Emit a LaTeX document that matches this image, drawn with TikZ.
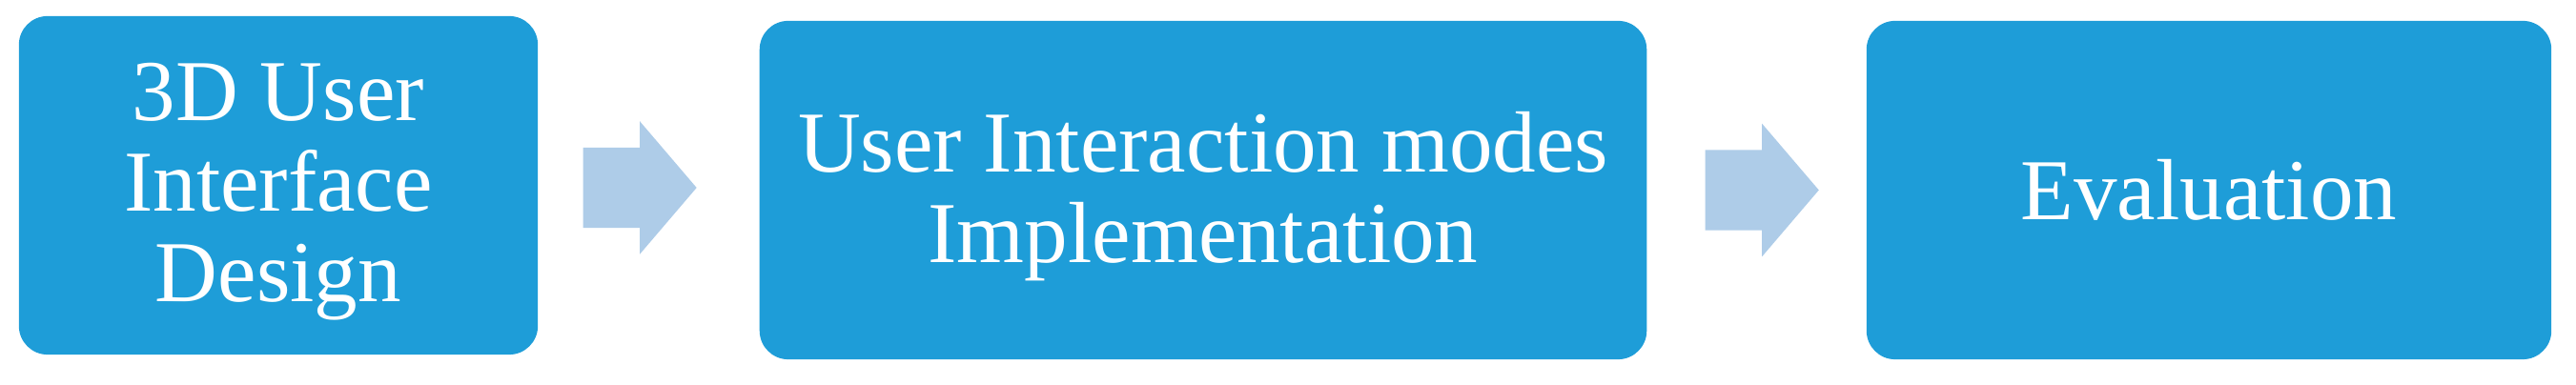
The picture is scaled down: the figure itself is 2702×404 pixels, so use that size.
\documentclass[tikz,border=0pt]{standalone}
\usepackage{fontspec}
\setmainfont{Liberation Serif}
\usetikzlibrary{positioning, shapes.arrows}
\definecolor{stageblue}{RGB}{30,157,216}
\definecolor{flowblue}{RGB}{174,204,232}
\tikzset{
  stage/.style = {
    shape = rectangle,
    fill = stageblue,
    text = white,
    rounded corners = 0.3cm,
    align = center,
    minimum height = 3.55cm,
    inner sep = 0pt,
    text depth = 0pt,
    font = \fontsize{25.9pt}{27pt}\selectfont,
  }
}
\tikzset{
  flow/.style = {
    shape = single arrow,
    fill = flowblue,
    inner sep = 0pt,
    text height = 0.415cm,
    text depth = 0.415cm,
    minimum height = 1.19cm,
    single arrow head extend = 0.275cm,
    single arrow tip angle = 99,
  }
}

\begin{document}
\begin{tikzpicture}[x=0.01cm, y=0.01cm]
        \useasboundingbox (0,0) rectangle (2702,404);
        \node[stage, minimum width = 5.44cm, text height = 2.43cm] (1) at (292,209.5) {3D User\\Interface\\Design};
        \node[stage, minimum width = 9.3cm, text height = 1.51cm] (2) at (1262,204.5) {User Interaction modes\\Implementation};
        \node[stage, minimum width = 7.18cm, text height = 0.61cm] (3) at (2317,204.5) {Evaluation};
        \node[flow, right=0.46cm of 1, yshift=-0.025cm] (a1) {};
        \node[flow, right=0.6cm of 2] (a2) {};
    \end{tikzpicture}
\end{document}
